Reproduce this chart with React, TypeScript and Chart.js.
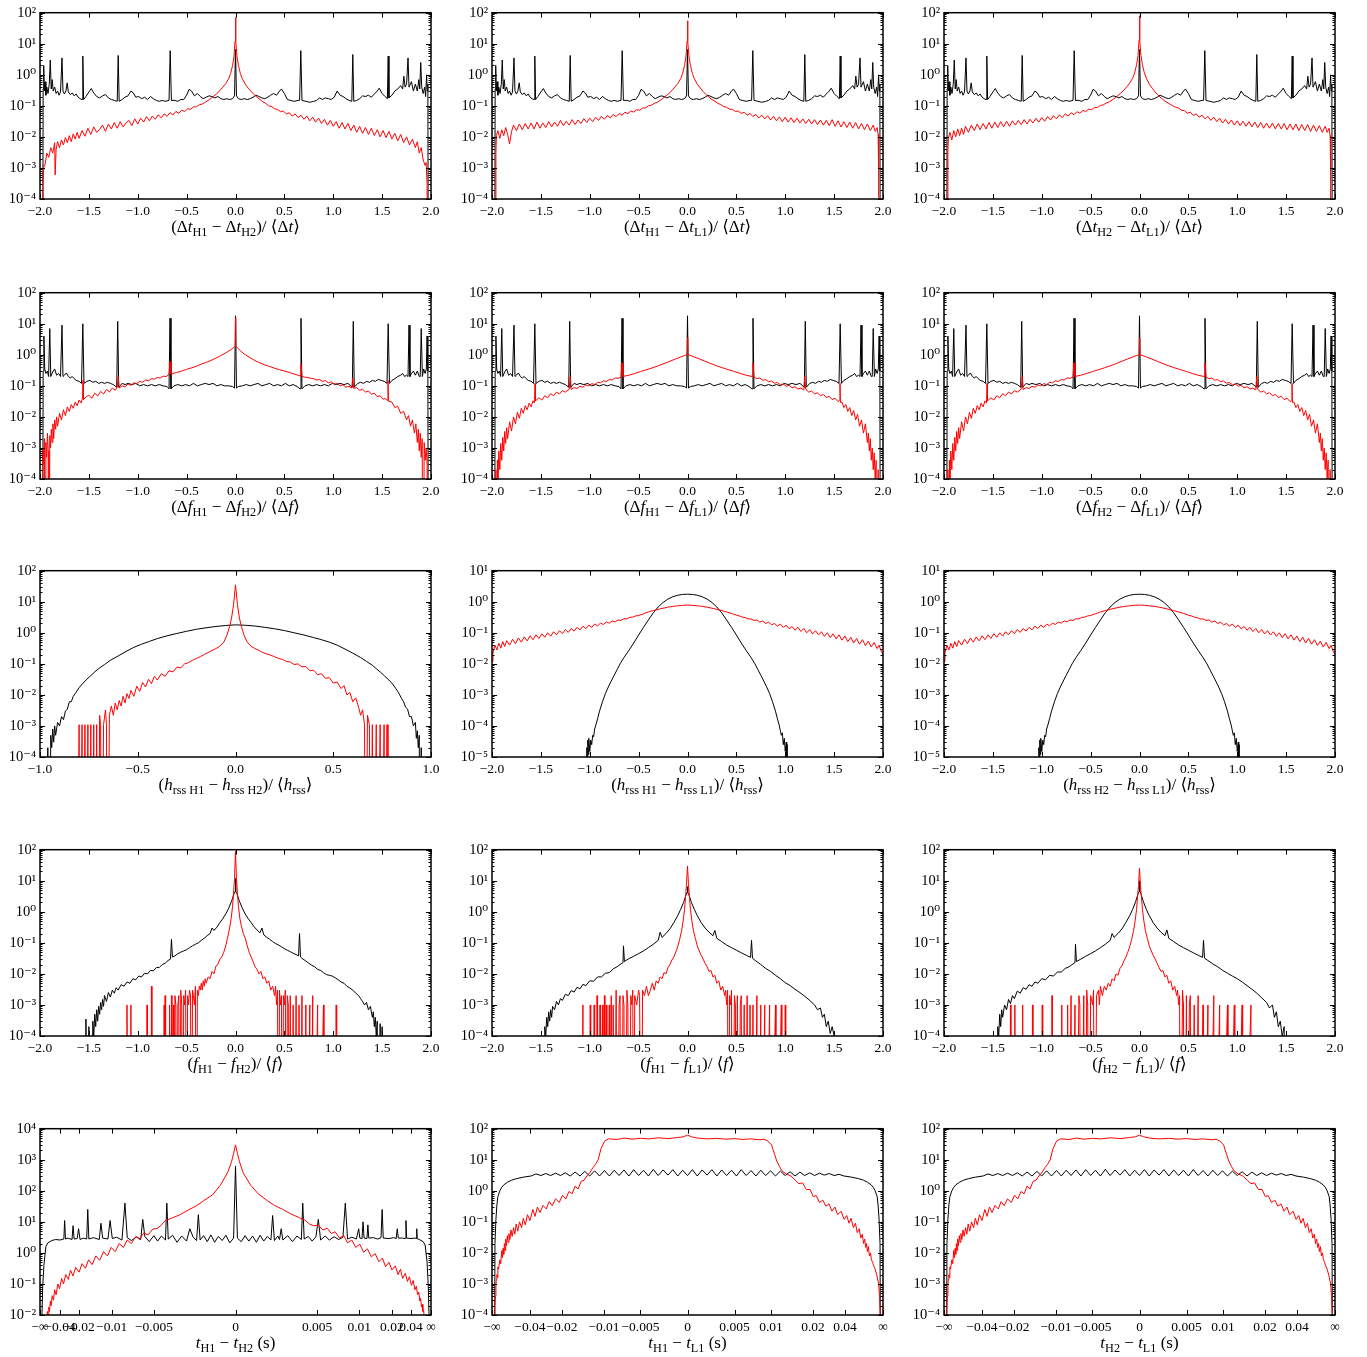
import React, { useEffect, useRef } from "react";
import { Chart, registerables } from "chart.js";

Chart.register(...registerables);
Chart.defaults.font.family = '"Liberation Serif", "DejaVu Serif", serif';
Chart.defaults.color = "#000";

type Pts = [number, number][];

// ---------------- tick values ----------------
const xTicksWide = [-2, -1.5, -1, -0.5, 0, 0.5, 1, 1.5, 2];
const xTicksNarrow = [-1, -0.5, 0, 0.5, 1];
const xTicksTime = [-Infinity, -0.04, -0.02, -0.01, -0.005, 0, 0.005, 0.01, 0.02, 0.04, Infinity];
const xTicksTimeLabels = ["−∞", "−0.04", "−0.02", "−0.01", "−0.005", "0", "0.005", "0.01", "0.02", "0.04", "∞"];
// arctan-warped time axis constants (s)
const TIME_WARP_H1H2 = 0.0065;
const TIME_WARP_HL = 0.0126;
const EMPTY_BIN = 1e-12; // empty histogram bins drop to the floor (clipped)

// ---------------- row 1 : Δt ----------------
const blackDt: Pts = [[-1.975,0],[-1.968,0.35],[-1.962,2.0],[-1.956,0.3],[-1.948,0.6],[-1.94,0.22],[-1.93,0.4],[-1.918,0.25],[-1.905,0.5],[-1.895,3.0],[-1.885,0.35],[-1.875,0.7],[-1.865,0.3],[-1.85,0.4],[-1.835,0.25],[-1.82,0.3],[-1.805,0.22],[-1.79,0.28],[-1.775,3.5],[-1.765,0.3],[-1.75,0.24],[-1.735,0.3],[-1.722,0.55],[-1.71,0.28],[-1.69,0.23],[-1.67,0.26],[-1.65,0.21],[-1.63,0.24],[-1.61,0.19],[-1.59,0.17],[-1.57,0.16],[-1.562,4.0],[-1.554,0.16],[-1.53,0.2],[-1.5,0.28],[-1.475,0.36],[-1.45,0.26],[-1.42,0.2],[-1.39,0.18],[-1.36,0.21],[-1.33,0.23],[-1.3,0.18],[-1.27,0.16],[-1.24,0.15],[-1.21,0.14],[-1.2,4.2],[-1.19,0.14],[-1.16,0.16],[-1.13,0.19],[-1.1,0.21],[-1.07,0.3],[-1.045,0.26],[-1.02,0.19],[-0.99,0.2],[-0.96,0.17],[-0.93,0.19],[-0.9,0.16],[-0.87,0.2],[-0.84,0.17],[-0.81,0.15],[-0.78,0.14],[-0.75,0.15],[-0.72,0.14],[-0.68,0.15],[-0.668,6.0],[-0.656,0.15],[-0.62,0.15],[-0.59,0.14],[-0.56,0.16],[-0.53,0.16],[-0.5,0.22],[-0.475,0.34],[-0.45,0.3],[-0.42,0.21],[-0.39,0.25],[-0.36,0.2],[-0.33,0.17],[-0.3,0.19],[-0.27,0.21],[-0.24,0.2],[-0.21,0.18],[-0.18,0.2],[-0.15,0.17],[-0.12,0.16],[-0.09,0.17],[-0.06,0.16],[-0.03,0.17],[-0.01,0.21],[0,6.5],[0.01,0.21],[0.03,0.17],[0.06,0.16],[0.09,0.17],[0.12,0.16],[0.15,0.17],[0.18,0.19],[0.21,0.22],[0.24,0.2],[0.27,0.18],[0.3,0.17],[0.33,0.19],[0.36,0.22],[0.39,0.25],[0.42,0.22],[0.45,0.3],[0.47,0.35],[0.5,0.25],[0.53,0.16],[0.56,0.15],[0.6,0.14],[0.64,0.15],[0.656,0.15],[0.668,6.0],[0.68,0.15],[0.72,0.14],[0.76,0.13],[0.8,0.14],[0.83,0.15],[0.86,0.18],[0.89,0.16],[0.92,0.18],[0.95,0.17],[0.98,0.16],[1.01,0.19],[1.04,0.3],[1.07,0.22],[1.1,0.2],[1.13,0.17],[1.16,0.15],[1.19,0.14],[1.2,4.5],[1.21,0.14],[1.24,0.15],[1.27,0.17],[1.3,0.21],[1.33,0.2],[1.36,0.22],[1.39,0.19],[1.42,0.24],[1.45,0.3],[1.47,0.37],[1.5,0.25],[1.53,0.2],[1.554,0.17],[1.562,4.0],[1.57,0.18],[1.6,0.22],[1.63,0.3],[1.66,0.35],[1.69,0.45],[1.71,0.35],[1.722,0.9],[1.735,0.4],[1.75,0.5],[1.765,3.5],[1.775,0.4],[1.8,0.6],[1.82,0.3],[1.84,0.5],[1.86,0.3],[1.875,0.7],[1.885,0.35],[1.895,2.5],[1.905,0.4],[1.92,0.25],[1.935,0.4],[1.945,0.2],[1.955,1.0],[1.962,0.3],[1.968,0.5],[1.975,0]];

const redDtH1H2: Pts = [[-1.975,0],[-1.97,3e-4],[-1.96,1.2e-3],[-1.95,0.0012],[-1.93,0.003],[-1.91,0.0022],[-1.89,0.0045],[-1.87,0.003],[-1.85,0.0065],[-1.845,0.0006],[-1.835,0.004],[-1.82,0.007],[-1.8,0.0045],[-1.78,0.008],[-1.76,0.0055],[-1.74,0.0095],[-1.72,0.0065],[-1.7,0.011],[-1.68,0.007],[-1.66,0.0125],[-1.64,0.0085],[-1.62,0.014],[-1.6,0.009],[-1.57,0.016],[-1.54,0.0105],[-1.51,0.019],[-1.48,0.012],[-1.45,0.021],[-1.42,0.014],[-1.39,0.0175],[-1.36,0.024],[-1.33,0.015],[-1.3,0.026],[-1.27,0.018],[-1.24,0.029],[-1.21,0.019],[-1.18,0.031],[-1.15,0.021],[-1.12,0.028],[-1.09,0.034],[-1.06,0.023],[-1.03,0.038],[-1.0,0.026],[-0.97,0.04],[-0.94,0.03],[-0.91,0.045],[-0.88,0.033],[-0.85,0.047],[-0.82,0.037],[-0.79,0.052],[-0.76,0.041],[-0.73,0.055],[-0.7,0.046],[-0.67,0.061],[-0.64,0.051],[-0.61,0.066],[-0.58,0.058],[-0.55,0.072],[-0.52,0.066],[-0.49,0.08],[-0.46,0.078],[-0.43,0.092],[-0.4,0.093],[-0.37,0.108],[-0.34,0.115],[-0.31,0.13],[-0.28,0.15],[-0.25,0.175],[-0.22,0.21],[-0.19,0.25],[-0.16,0.31],[-0.13,0.4],[-0.1,0.52],[-0.07,0.75],[-0.05,1.1],[-0.03,2.0],[-0.015,4.0],[-0.005,12],[0,70],[0.005,12],[0.015,4],[0.03,2],[0.05,1.1],[0.07,0.75],[0.1,0.5],[0.13,0.37],[0.16,0.29],[0.19,0.23],[0.22,0.19],[0.25,0.16],[0.28,0.135],[0.31,0.12],[0.34,0.1],[0.37,0.095],[0.4,0.08],[0.43,0.077],[0.46,0.065],[0.49,0.068],[0.52,0.055],[0.55,0.06],[0.58,0.047],[0.61,0.055],[0.64,0.042],[0.67,0.05],[0.7,0.037],[0.73,0.047],[0.76,0.033],[0.79,0.043],[0.82,0.03],[0.85,0.04],[0.88,0.027],[0.91,0.037],[0.94,0.024],[0.97,0.034],[1.0,0.022],[1.03,0.031],[1.06,0.019],[1.09,0.029],[1.12,0.018],[1.15,0.027],[1.18,0.016],[1.21,0.024],[1.24,0.014],[1.27,0.022],[1.3,0.013],[1.33,0.02],[1.36,0.012],[1.39,0.019],[1.42,0.011],[1.45,0.017],[1.48,0.01],[1.51,0.016],[1.54,0.0095],[1.57,0.015],[1.6,0.0085],[1.63,0.013],[1.66,0.0075],[1.69,0.012],[1.72,0.0065],[1.75,0.01],[1.78,0.0055],[1.81,0.0085],[1.84,0.0045],[1.86,0.007],[1.88,0.003],[1.9,0.0045],[1.92,0.0018],[1.94,0.0012],[1.95,0.0015],[1.96,3e-4],[1.97,0]];

const redDtH1L1: Pts = [[-1.965,0],[-1.96,0.003],[-1.955,0.011],[-1.94,0.016],[-1.92,0.009],[-1.9,0.017],[-1.88,0.011],[-1.86,0.02],[-1.84,0.012],[-1.82,0.006],[-1.8,0.015],[-1.78,0.024],[-1.75,0.016],[-1.72,0.026],[-1.69,0.017],[-1.66,0.027],[-1.63,0.018],[-1.6,0.028],[-1.57,0.018],[-1.54,0.03],[-1.51,0.019],[-1.48,0.028],[-1.45,0.02],[-1.42,0.031],[-1.39,0.021],[-1.36,0.03],[-1.33,0.022],[-1.3,0.034],[-1.27,0.023],[-1.24,0.032],[-1.21,0.024],[-1.18,0.036],[-1.15,0.025],[-1.12,0.035],[-1.09,0.027],[-1.06,0.039],[-1.03,0.029],[-1.0,0.04],[-0.97,0.031],[-0.94,0.043],[-0.91,0.034],[-0.88,0.046],[-0.85,0.037],[-0.82,0.049],[-0.79,0.041],[-0.76,0.053],[-0.73,0.045],[-0.7,0.057],[-0.67,0.05],[-0.64,0.062],[-0.61,0.056],[-0.58,0.068],[-0.55,0.063],[-0.52,0.075],[-0.49,0.072],[-0.46,0.085],[-0.43,0.086],[-0.4,0.1],[-0.37,0.105],[-0.34,0.12],[-0.31,0.13],[-0.28,0.15],[-0.25,0.175],[-0.22,0.21],[-0.19,0.25],[-0.16,0.31],[-0.13,0.4],[-0.1,0.52],[-0.07,0.75],[-0.05,1.1],[-0.03,2.0],[-0.015,4],[-0.005,12],[0,55],[0.005,12],[0.015,4],[0.03,2],[0.05,1.1],[0.07,0.75],[0.1,0.5],[0.13,0.38],[0.16,0.29],[0.19,0.23],[0.22,0.19],[0.25,0.16],[0.28,0.14],[0.31,0.12],[0.34,0.11],[0.37,0.095],[0.4,0.09],[0.43,0.078],[0.46,0.077],[0.49,0.066],[0.52,0.068],[0.55,0.057],[0.58,0.062],[0.61,0.05],[0.64,0.057],[0.67,0.045],[0.7,0.053],[0.73,0.041],[0.76,0.05],[0.79,0.038],[0.82,0.048],[0.85,0.035],[0.88,0.046],[0.91,0.033],[0.94,0.044],[0.97,0.031],[1.0,0.043],[1.03,0.03],[1.06,0.041],[1.09,0.029],[1.12,0.04],[1.15,0.028],[1.18,0.038],[1.21,0.027],[1.24,0.037],[1.27,0.026],[1.3,0.036],[1.33,0.025],[1.36,0.035],[1.39,0.024],[1.42,0.034],[1.45,0.023],[1.48,0.036],[1.51,0.022],[1.54,0.033],[1.57,0.021],[1.6,0.031],[1.63,0.02],[1.66,0.03],[1.69,0.019],[1.72,0.029],[1.75,0.018],[1.78,0.027],[1.81,0.017],[1.84,0.026],[1.87,0.016],[1.9,0.024],[1.92,0.015],[1.94,0.02],[1.95,0.012],[1.955,1e-3],[1.96,0]];

const redDtH2L1: Pts = [[-1.965,0],[-1.96,0.004],[-1.955,0.009],[-1.94,0.014],[-1.92,0.008],[-1.9,0.016],[-1.88,0.01],[-1.86,0.018],[-1.84,0.011],[-1.82,0.019],[-1.8,0.012],[-1.78,0.022],[-1.75,0.014],[-1.72,0.024],[-1.69,0.016],[-1.66,0.026],[-1.63,0.017],[-1.6,0.027],[-1.57,0.018],[-1.54,0.029],[-1.51,0.019],[-1.48,0.03],[-1.45,0.02],[-1.42,0.031],[-1.39,0.021],[-1.36,0.032],[-1.33,0.022],[-1.3,0.033],[-1.27,0.024],[-1.24,0.034],[-1.21,0.025],[-1.18,0.036],[-1.15,0.026],[-1.12,0.037],[-1.09,0.028],[-1.06,0.04],[-1.03,0.03],[-1.0,0.042],[-0.97,0.032],[-0.94,0.045],[-0.91,0.035],[-0.88,0.048],[-0.85,0.038],[-0.82,0.051],[-0.79,0.042],[-0.76,0.055],[-0.73,0.047],[-0.7,0.06],[-0.67,0.052],[-0.64,0.065],[-0.61,0.058],[-0.58,0.071],[-0.55,0.066],[-0.52,0.078],[-0.49,0.075],[-0.46,0.088],[-0.43,0.089],[-0.4,0.103],[-0.37,0.108],[-0.34,0.123],[-0.31,0.134],[-0.28,0.155],[-0.25,0.18],[-0.22,0.215],[-0.19,0.26],[-0.16,0.32],[-0.13,0.41],[-0.1,0.54],[-0.07,0.78],[-0.05,1.15],[-0.03,2.1],[-0.015,4.2],[-0.005,13],[0,80],[0.005,13],[0.015,4.2],[0.03,2.1],[0.05,1.15],[0.07,0.78],[0.1,0.5],[0.13,0.37],[0.16,0.28],[0.19,0.22],[0.22,0.18],[0.25,0.15],[0.28,0.13],[0.31,0.115],[0.34,0.1],[0.37,0.09],[0.4,0.085],[0.43,0.072],[0.46,0.07],[0.49,0.058],[0.52,0.062],[0.55,0.049],[0.58,0.055],[0.61,0.043],[0.64,0.05],[0.67,0.038],[0.7,0.046],[0.73,0.034],[0.76,0.043],[0.79,0.031],[0.82,0.04],[0.85,0.028],[0.88,0.037],[0.91,0.026],[0.94,0.035],[0.97,0.024],[1.0,0.033],[1.03,0.023],[1.06,0.032],[1.09,0.022],[1.12,0.031],[1.15,0.021],[1.18,0.03],[1.21,0.02],[1.24,0.029],[1.27,0.019],[1.3,0.028],[1.33,0.019],[1.36,0.028],[1.39,0.018],[1.42,0.027],[1.45,0.018],[1.48,0.027],[1.51,0.017],[1.54,0.026],[1.57,0.017],[1.6,0.026],[1.63,0.016],[1.66,0.025],[1.69,0.016],[1.72,0.025],[1.75,0.015],[1.78,0.024],[1.81,0.015],[1.84,0.023],[1.87,0.014],[1.9,0.022],[1.92,0.014],[1.94,0.019],[1.95,0.011],[1.955,1e-3],[1.96,0]];

// ---------------- row 2 : Δf ----------------
const blackDf: Pts = [[-1.975,0],[-1.968,0.3],[-1.96,4.0],[-1.952,0.35],[-1.94,0.25],[-1.925,0.3],[-1.912,0.2],[-1.9,7.0],[-1.89,0.2],[-1.87,0.28],[-1.85,0.35],[-1.83,0.22],[-1.81,0.25],[-1.79,0.2],[-1.775,9.0],[-1.765,0.2],[-1.75,0.22],[-1.73,0.26],[-1.71,0.2],[-1.69,0.18],[-1.67,0.2],[-1.65,0.17],[-1.63,0.15],[-1.6,0.14],[-1.575,0.12],[-1.562,10],[-1.55,0.12],[-1.52,0.14],[-1.49,0.15],[-1.46,0.13],[-1.43,0.14],[-1.4,0.12],[-1.37,0.13],[-1.34,0.12],[-1.31,0.13],[-1.28,0.12],[-1.25,0.11],[-1.215,0.09],[-1.205,12],[-1.195,0.09],[-1.16,0.12],[-1.13,0.11],[-1.1,0.12],[-1.06,0.11],[-1.02,0.12],[-0.98,0.1],[-0.94,0.11],[-0.9,0.1],[-0.86,0.11],[-0.82,0.1],[-0.78,0.11],[-0.74,0.1],[-0.7,0.095],[-0.68,0.08],[-0.67,15],[-0.66,0.08],[-0.63,0.1],[-0.59,0.11],[-0.55,0.1],[-0.51,0.11],[-0.47,0.1],[-0.43,0.12],[-0.39,0.1],[-0.35,0.11],[-0.31,0.12],[-0.27,0.11],[-0.23,0.12],[-0.19,0.1],[-0.15,0.11],[-0.11,0.1],[-0.07,0.1],[-0.03,0.095],[-0.01,0.085],[0,18],[0.01,0.085],[0.03,0.095],[0.07,0.1],[0.11,0.11],[0.15,0.1],[0.19,0.11],[0.23,0.12],[0.27,0.1],[0.31,0.11],[0.35,0.12],[0.39,0.1],[0.43,0.11],[0.47,0.1],[0.51,0.12],[0.55,0.1],[0.59,0.11],[0.63,0.095],[0.66,0.08],[0.67,15],[0.68,0.08],[0.71,0.1],[0.75,0.11],[0.79,0.1],[0.83,0.11],[0.87,0.1],[0.91,0.11],[0.95,0.1],[0.99,0.12],[1.03,0.11],[1.07,0.12],[1.11,0.11],[1.15,0.12],[1.195,0.09],[1.205,12],[1.215,0.09],[1.25,0.12],[1.28,0.13],[1.31,0.12],[1.34,0.14],[1.37,0.13],[1.4,0.15],[1.43,0.14],[1.46,0.16],[1.49,0.15],[1.52,0.14],[1.55,0.12],[1.562,10],[1.575,0.12],[1.6,0.15],[1.63,0.17],[1.66,0.2],[1.69,0.22],[1.71,0.25],[1.73,0.2],[1.75,0.22],[1.765,0.2],[1.775,9.0],[1.785,0.2],[1.8,0.25],[1.82,0.3],[1.84,0.22],[1.86,0.3],[1.88,0.2],[1.89,0.2],[1.9,7.0],[1.912,0.2],[1.925,0.35],[1.94,0.25],[1.952,0.35],[1.96,4.0],[1.968,0.3],[1.975,0]];

const redDfH1H2: Pts = [[-1.98,0],[-1.97,1e-3],[-1.962,3e-4],[-1.955,2e-3],[-1.948,0],[-1.94,1.5e-3],[-1.932,5e-4],[-1.924,3e-3],[-1.916,8e-4],[-1.908,0],[-1.9,2.5e-3],[-1.892,1e-3],[-1.884,4e-3],[-1.876,1.5e-3],[-1.868,6e-3],[-1.86,2e-3],[-1.85,8e-3],[-1.84,4e-3],[-1.83,1e-2],[-1.82,5e-3],[-1.8,1.3e-2],[-1.78,8e-3],[-1.76,1.7e-2],[-1.74,1.1e-2],[-1.72,2.1e-2],[-1.7,1.5e-2],[-1.68,2.5e-2],[-1.66,1.9e-2],[-1.64,3e-2],[-1.62,2.3e-2],[-1.6,3.5e-2],[-1.58,2.8e-2],[-1.565,4e-2],[-1.56,0.15],[-1.555,3.6e-2],[-1.53,4.4e-2],[-1.5,0.05],[-1.47,0.04],[-1.44,0.058],[-1.41,0.047],[-1.38,0.066],[-1.35,0.055],[-1.32,0.076],[-1.29,0.064],[-1.26,0.085],[-1.23,0.072],[-1.21,0.09],[-1.2,0.2],[-1.19,0.085],[-1.16,0.1],[-1.13,0.092],[-1.1,0.115],[-1.07,0.104],[-1.04,0.125],[-1.01,0.118],[-0.98,0.14],[-0.95,0.13],[-0.92,0.155],[-0.89,0.145],[-0.86,0.17],[-0.83,0.165],[-0.8,0.185],[-0.77,0.18],[-0.74,0.205],[-0.71,0.2],[-0.68,0.23],[-0.67,0.6],[-0.66,0.24],[-0.6,0.27],[-0.55,0.3],[-0.5,0.34],[-0.45,0.38],[-0.4,0.43],[-0.35,0.5],[-0.3,0.57],[-0.25,0.66],[-0.2,0.78],[-0.15,0.95],[-0.1,1.15],[-0.05,1.45],[-0.02,1.7],[-0.005,1.9],[0,16],[0.005,1.9],[0.02,1.65],[0.05,1.35],[0.1,1.0],[0.15,0.8],[0.2,0.65],[0.25,0.55],[0.3,0.47],[0.35,0.42],[0.4,0.37],[0.45,0.33],[0.5,0.3],[0.55,0.27],[0.6,0.24],[0.66,0.21],[0.67,0.5],[0.68,0.2],[0.71,0.19],[0.74,0.185],[0.77,0.175],[0.8,0.17],[0.83,0.155],[0.86,0.16],[0.89,0.14],[0.92,0.148],[0.95,0.125],[0.98,0.135],[1.01,0.112],[1.04,0.12],[1.07,0.1],[1.1,0.108],[1.13,0.09],[1.16,0.097],[1.19,0.085],[1.2,0.18],[1.21,0.083],[1.24,0.087],[1.27,0.072],[1.3,0.078],[1.33,0.063],[1.36,0.068],[1.39,0.054],[1.42,0.058],[1.45,0.045],[1.48,0.048],[1.51,0.037],[1.53,0.039],[1.555,0.034],[1.56,0.15],[1.565,0.032],[1.6,0.03],[1.63,0.02],[1.66,0.022],[1.69,0.013],[1.72,0.015],[1.75,0.008],[1.77,0.011],[1.79,0.005],[1.81,0.008],[1.83,0.003],[1.845,0.006],[1.86,0.0015],[1.87,0.004],[1.88,0.0008],[1.89,0.003],[1.9,0.0005],[1.91,0.002],[1.92,0],[1.93,0.0015],[1.94,0.0004],[1.95,0.001],[1.96,0.0003],[1.97,0]];

const redDfHL: Pts = [[-1.97,0],[-1.96,2e-4],[-1.955,0],[-1.945,4e-4],[-1.94,1e-4],[-1.93,8e-4],[-1.92,2e-4],[-1.91,1.4e-3],[-1.9,4e-4],[-1.89,2.2e-3],[-1.88,8e-4],[-1.87,3.4e-3],[-1.86,1.4e-3],[-1.85,4.5e-3],[-1.84,2e-3],[-1.82,7e-3],[-1.8,3.5e-3],[-1.78,1e-2],[-1.76,6e-3],[-1.74,1.4e-2],[-1.72,9e-3],[-1.7,1.9e-2],[-1.68,1.3e-2],[-1.66,2.3e-2],[-1.64,1.7e-2],[-1.62,2.8e-2],[-1.6,2.1e-2],[-1.58,3.3e-2],[-1.565,2.8e-2],[-1.56,0.12],[-1.555,3.3e-2],[-1.52,4.1e-2],[-1.49,3.5e-2],[-1.46,4.8e-2],[-1.43,4.1e-2],[-1.4,5.6e-2],[-1.37,4.8e-2],[-1.34,6.3e-2],[-1.31,5.5e-2],[-1.28,7e-2],[-1.25,6.3e-2],[-1.21,7.8e-2],[-1.2,0.2],[-1.19,7.6e-2],[-1.16,8.8e-2],[-1.13,8.2e-2],[-1.1,9.7e-2],[-1.07,9e-2],[-1.04,0.107],[-1.01,0.1],[-0.98,0.118],[-0.95,0.11],[-0.92,0.13],[-0.89,0.125],[-0.86,0.145],[-0.83,0.138],[-0.8,0.16],[-0.77,0.155],[-0.74,0.18],[-0.71,0.175],[-0.68,0.19],[-0.67,0.55],[-0.66,0.2],[-0.6,0.22],[-0.54,0.25],[-0.48,0.29],[-0.42,0.33],[-0.36,0.38],[-0.3,0.44],[-0.24,0.52],[-0.18,0.62],[-0.12,0.74],[-0.07,0.85],[-0.03,0.95],[-0.005,1.0],[0,3.5],[0.005,1.0],[0.03,0.95],[0.07,0.85],[0.12,0.74],[0.18,0.62],[0.24,0.52],[0.3,0.44],[0.36,0.38],[0.42,0.33],[0.48,0.29],[0.54,0.25],[0.6,0.22],[0.66,0.2],[0.67,0.55],[0.68,0.19],[0.71,0.17],[0.74,0.178],[0.77,0.152],[0.8,0.158],[0.83,0.136],[0.86,0.143],[0.89,0.122],[0.92,0.128],[0.95,0.108],[0.98,0.115],[1.01,0.097],[1.04,0.104],[1.07,0.087],[1.1,0.094],[1.13,0.079],[1.16,0.085],[1.19,0.074],[1.2,0.2],[1.21,0.077],[1.24,0.063],[1.27,0.068],[1.3,0.055],[1.33,0.06],[1.36,0.048],[1.39,0.053],[1.42,0.042],[1.45,0.046],[1.48,0.036],[1.51,0.04],[1.54,0.031],[1.555,0.034],[1.56,0.12],[1.565,0.029],[1.58,0.03],[1.6,0.02],[1.62,0.025],[1.64,0.015],[1.66,0.02],[1.68,0.011],[1.7,0.016],[1.72,0.008],[1.74,0.012],[1.76,0.005],[1.78,0.008],[1.8,0.003],[1.82,0.006],[1.84,0.0015],[1.85,0.003],[1.86,0.0008],[1.87,0.002],[1.88,0.0004],[1.89,0.001],[1.9,0.0002],[1.91,0.0007],[1.92,0.0001],[1.93,0.0004],[1.94,0],[1.95,0.0002],[1.96,0]];

// ---------------- row 3 : h_rss ----------------
const blackHrssH1H2: Pts = [[-0.97,0],[-0.96,2e-4],[-0.955,0],[-0.945,5e-4],[-0.94,2e-4],[-0.935,8e-4],[-0.93,3e-4],[-0.925,1e-3],[-0.92,5e-4],[-0.91,1.3e-3],[-0.9,1e-3],[-0.89,2e-3],[-0.88,1.6e-3],[-0.87,3e-3],[-0.86,3.5e-3],[-0.85,6e-3],[-0.84,6e-3],[-0.83,9e-3],[-0.82,1.1e-2],[-0.8,1.7e-2],[-0.78,2.4e-2],[-0.76,3.2e-2],[-0.74,4.2e-2],[-0.72,5.5e-2],[-0.7,7e-2],[-0.67,9.5e-2],[-0.64,0.13],[-0.6,0.18],[-0.56,0.25],[-0.52,0.34],[-0.48,0.43],[-0.44,0.53],[-0.4,0.65],[-0.35,0.8],[-0.3,0.95],[-0.25,1.12],[-0.2,1.3],[-0.15,1.45],[-0.1,1.6],[-0.05,1.72],[0,1.8],[0.05,1.75],[0.1,1.65],[0.15,1.5],[0.2,1.35],[0.25,1.18],[0.3,1.0],[0.35,0.85],[0.4,0.7],[0.44,0.6],[0.48,0.5],[0.52,0.4],[0.56,0.3],[0.6,0.22],[0.64,0.16],[0.67,0.12],[0.7,0.09],[0.72,0.07],[0.74,0.055],[0.76,0.042],[0.78,0.032],[0.8,0.024],[0.82,0.016],[0.83,0.013],[0.84,0.01],[0.85,7.5e-3],[0.86,6e-3],[0.87,4e-3],[0.88,3.5e-3],[0.89,2e-3],[0.9,2e-3],[0.91,1e-3],[0.92,1.3e-3],[0.925,4e-4],[0.93,7e-4],[0.935,2e-4],[0.94,5e-4],[0.945,0],[0.95,2e-4],[0.955,0]];

const redHrssH1H2: Pts = [[-0.81,0],[-0.8,1.1e-3],[-0.795,0],[-0.785,1.1e-3],[-0.78,0],[-0.77,1.1e-3],[-0.765,0],[-0.755,1.1e-3],[-0.75,0],[-0.74,1.1e-3],[-0.735,0],[-0.725,1.1e-3],[-0.72,0],[-0.71,1.1e-3],[-0.703,0],[-0.695,2.2e-3],[-0.69,1.1e-3],[-0.685,0],[-0.675,1.1e-3],[-0.665,3.3e-3],[-0.66,1.1e-3],[-0.655,0],[-0.645,2.2e-3],[-0.635,4.4e-3],[-0.625,2.2e-3],[-0.615,5.5e-3],[-0.605,3.3e-3],[-0.595,6.6e-3],[-0.585,4.4e-3],[-0.575,9e-3],[-0.565,5.5e-3],[-0.555,1.1e-2],[-0.545,7.7e-3],[-0.535,1.4e-2],[-0.52,9e-3],[-0.505,1.9e-2],[-0.49,1.3e-2],[-0.475,2.5e-2],[-0.46,1.8e-2],[-0.445,3.2e-2],[-0.43,2.3e-2],[-0.415,4e-2],[-0.4,3e-2],[-0.38,4.8e-2],[-0.36,4e-2],[-0.34,6e-2],[-0.32,5.5e-2],[-0.3,7.8e-2],[-0.28,7.5e-2],[-0.26,0.1],[-0.24,0.11],[-0.22,0.13],[-0.2,0.15],[-0.18,0.17],[-0.16,0.2],[-0.14,0.23],[-0.12,0.27],[-0.1,0.31],[-0.08,0.37],[-0.06,0.5],[-0.045,0.8],[-0.03,1.6],[-0.02,3],[-0.01,8],[0,35],[0.01,8],[0.02,3],[0.03,1.6],[0.045,0.8],[0.06,0.5],[0.08,0.37],[0.1,0.31],[0.12,0.27],[0.14,0.23],[0.16,0.21],[0.18,0.19],[0.2,0.17],[0.22,0.15],[0.24,0.14],[0.26,0.12],[0.28,0.115],[0.3,0.095],[0.32,0.1],[0.34,0.08],[0.36,0.082],[0.38,0.06],[0.4,0.062],[0.42,0.045],[0.44,0.048],[0.46,0.034],[0.48,0.036],[0.5,0.024],[0.52,0.026],[0.54,0.016],[0.555,0.02],[0.57,0.01],[0.585,0.012],[0.6,0.006],[0.615,0.008],[0.63,0.004],[0.64,0.0022],[0.65,0.0033],[0.66,0.0011],[0.665,0],[0.675,0.0022],[0.685,0.0011],[0.69,0],[0.7,0.0011],[0.705,0],[0.72,0.0011],[0.725,0],[0.74,0.0011],[0.745,0],[0.76,0.0011],[0.765,0],[0.775,0.0011],[0.78,0]];

const blackHrssHL: Pts = [[-1.04,0],[-1.03,2e-5],[-1.025,8e-6],[-1.02,3.5e-5],[-1.015,1.2e-5],[-1.01,4e-5],[-1.0,1.5e-5],[-0.99,3.5e-5],[-0.98,2.5e-5],[-0.97,5e-5],[-0.96,4.5e-5],[-0.95,8e-5],[-0.94,1e-4],[-0.92,1.7e-4],[-0.9,3e-4],[-0.87,6e-4],[-0.84,1.1e-3],[-0.81,1.8e-3],[-0.78,2.8e-3],[-0.75,4.3e-3],[-0.72,6.5e-3],[-0.69,1e-2],[-0.65,1.6e-2],[-0.6,2.7e-2],[-0.55,4.7e-2],[-0.5,8.5e-2],[-0.45,0.15],[-0.4,0.26],[-0.35,0.44],[-0.3,0.68],[-0.25,0.95],[-0.2,1.22],[-0.15,1.45],[-0.1,1.62],[-0.05,1.72],[0,1.75],[0.05,1.72],[0.1,1.62],[0.15,1.45],[0.2,1.22],[0.25,0.95],[0.3,0.68],[0.35,0.44],[0.4,0.26],[0.45,0.15],[0.5,0.085],[0.55,0.047],[0.6,0.027],[0.65,0.016],[0.69,0.01],[0.72,6.5e-3],[0.75,4.3e-3],[0.78,2.8e-3],[0.81,1.8e-3],[0.84,1.1e-3],[0.87,6e-4],[0.9,3e-4],[0.92,1.7e-4],[0.94,1e-4],[0.95,7e-5],[0.96,5e-5],[0.97,6e-5],[0.98,2.5e-5],[0.99,4e-5],[1.0,1.5e-5],[1.01,3e-5],[1.015,1e-5],[1.02,2.5e-5],[1.03,0]];

const redHrssHL: Pts = [[-2.0,0.012],[-1.99,0.022],[-1.97,0.04],[-1.95,0.028],[-1.93,0.046],[-1.91,0.032],[-1.89,0.052],[-1.87,0.036],[-1.85,0.056],[-1.82,0.04],[-1.79,0.062],[-1.76,0.045],[-1.73,0.068],[-1.7,0.05],[-1.67,0.074],[-1.64,0.055],[-1.61,0.08],[-1.58,0.06],[-1.55,0.086],[-1.52,0.066],[-1.49,0.093],[-1.46,0.072],[-1.43,0.1],[-1.4,0.078],[-1.37,0.108],[-1.34,0.086],[-1.31,0.117],[-1.28,0.094],[-1.25,0.127],[-1.22,0.103],[-1.19,0.138],[-1.16,0.113],[-1.13,0.15],[-1.1,0.124],[-1.07,0.163],[-1.04,0.137],[-1.01,0.176],[-0.98,0.15],[-0.95,0.19],[-0.92,0.168],[-0.89,0.205],[-0.86,0.185],[-0.83,0.222],[-0.8,0.205],[-0.77,0.24],[-0.74,0.225],[-0.71,0.26],[-0.68,0.25],[-0.65,0.285],[-0.62,0.28],[-0.59,0.315],[-0.56,0.32],[-0.53,0.35],[-0.5,0.36],[-0.45,0.41],[-0.4,0.47],[-0.35,0.52],[-0.3,0.57],[-0.25,0.62],[-0.2,0.67],[-0.15,0.71],[-0.1,0.74],[-0.05,0.77],[0,0.78],[0.05,0.77],[0.1,0.74],[0.15,0.71],[0.2,0.67],[0.25,0.62],[0.3,0.57],[0.35,0.52],[0.4,0.47],[0.45,0.42],[0.5,0.37],[0.53,0.35],[0.56,0.32],[0.59,0.31],[0.62,0.28],[0.65,0.28],[0.68,0.25],[0.71,0.26],[0.74,0.22],[0.77,0.24],[0.8,0.2],[0.83,0.22],[0.86,0.18],[0.89,0.2],[0.92,0.165],[0.95,0.19],[0.98,0.15],[1.01,0.175],[1.04,0.135],[1.07,0.16],[1.1,0.122],[1.13,0.15],[1.16,0.11],[1.19,0.138],[1.22,0.1],[1.25,0.127],[1.28,0.092],[1.31,0.117],[1.34,0.085],[1.37,0.108],[1.4,0.077],[1.43,0.1],[1.46,0.07],[1.49,0.093],[1.52,0.064],[1.55,0.086],[1.58,0.058],[1.61,0.079],[1.64,0.052],[1.67,0.072],[1.7,0.047],[1.73,0.066],[1.76,0.043],[1.79,0.06],[1.82,0.039],[1.85,0.054],[1.88,0.035],[1.91,0.049],[1.94,0.031],[1.96,0.04],[1.98,0.026],[2.0,0.02]];

// ---------------- row 4 : f ----------------
const blackFH1H2: Pts = [[-1.54,0],[-1.53,3.5e-4],[-1.52,0],[-1.5,2e-4],[-1.48,0],[-1.46,3e-4],[-1.45,1e-4],[-1.44,5e-4],[-1.43,2e-4],[-1.42,7e-4],[-1.41,3e-4],[-1.4,9e-4],[-1.39,5e-4],[-1.38,1.2e-3],[-1.37,7e-4],[-1.36,1.5e-3],[-1.35,9e-4],[-1.34,2e-3],[-1.32,1.3e-3],[-1.3,2.5e-3],[-1.28,1.8e-3],[-1.26,3e-3],[-1.24,2.4e-3],[-1.22,3.6e-3],[-1.2,3e-3],[-1.17,4.5e-3],[-1.14,4e-3],[-1.11,5.5e-3],[-1.08,5e-3],[-1.05,7e-3],[-1.02,6.5e-3],[-0.99,8.5e-3],[-0.96,8e-3],[-0.93,1.05e-2],[-0.9,1e-2],[-0.87,1.3e-2],[-0.84,1.25e-2],[-0.81,1.6e-2],[-0.78,1.6e-2],[-0.75,2e-2],[-0.72,2.2e-2],[-0.69,2.7e-2],[-0.665,3e-2],[-0.655,0.13],[-0.645,3.5e-2],[-0.62,3.8e-2],[-0.59,4.5e-2],[-0.56,5e-2],[-0.53,5.5e-2],[-0.5,6e-2],[-0.47,7e-2],[-0.44,8e-2],[-0.41,9e-2],[-0.38,0.1],[-0.35,0.12],[-0.32,0.14],[-0.29,0.17],[-0.26,0.2],[-0.24,0.3],[-0.22,0.25],[-0.19,0.32],[-0.16,0.45],[-0.13,0.6],[-0.1,0.85],[-0.07,1.3],[-0.04,2.2],[-0.015,3.8],[-0.005,4.5],[0,12],[0.005,4.5],[0.015,3.8],[0.04,2.2],[0.07,1.3],[0.1,0.85],[0.13,0.6],[0.16,0.45],[0.19,0.33],[0.22,0.26],[0.25,0.21],[0.27,0.3],[0.29,0.18],[0.32,0.15],[0.35,0.13],[0.38,0.11],[0.41,0.095],[0.44,0.085],[0.47,0.075],[0.5,0.065],[0.53,0.058],[0.56,0.052],[0.59,0.046],[0.62,0.042],[0.645,0.038],[0.655,0.2],[0.665,0.035],[0.69,0.03],[0.72,0.026],[0.75,0.022],[0.78,0.019],[0.81,0.017],[0.84,0.014],[0.87,0.013],[0.9,0.011],[0.93,0.0095],[0.96,0.009],[0.99,0.0085],[1.02,0.0075],[1.05,0.0065],[1.08,0.0055],[1.11,0.005],[1.14,0.004],[1.17,0.0035],[1.2,0.003],[1.23,0.0024],[1.26,0.002],[1.28,0.0016],[1.3,0.0013],[1.32,0.001],[1.34,0.0012],[1.36,0.0007],[1.38,0.0009],[1.4,0.0004],[1.41,0.0006],[1.42,0.0002],[1.43,0.0004],[1.44,0.0001],[1.45,0.0003],[1.46,0],[1.48,0.00025],[1.49,0],[1.5,0.0002],[1.51,0]];

const redFH1H2: Pts = [[-1.12,0],[-1.11,1e-3],[-1.1,0],[-1.075,0],[-1.07,1e-3],[-1.065,0],[-0.91,0],[-0.905,1e-3],[-0.9,0],[-0.865,0],[-0.86,4e-3],[-0.855,0],[-0.735,0],[-0.73,1e-3],[-0.725,0],[-0.72,2e-3],[-0.715,0],[-0.68,0],[-0.675,1e-3],[-0.67,0],[-0.655,2e-3],[-0.65,0],[-0.635,1e-3],[-0.63,0],[-0.62,2e-3],[-0.61,1e-3],[-0.6,0],[-0.59,1e-3],[-0.58,2e-3],[-0.57,0],[-0.56,3e-3],[-0.55,1e-3],[-0.54,0],[-0.53,2e-3],[-0.52,1e-3],[-0.51,3e-3],[-0.5,0],[-0.49,2e-3],[-0.48,1e-3],[-0.47,3e-3],[-0.46,2e-3],[-0.45,0],[-0.44,3e-3],[-0.43,2e-3],[-0.42,1e-3],[-0.41,4e-3],[-0.4,0],[-0.39,3e-3],[-0.38,2e-3],[-0.37,4e-3],[-0.36,3e-3],[-0.35,5e-3],[-0.34,3e-3],[-0.33,6e-3],[-0.32,4e-3],[-0.31,7e-3],[-0.3,5e-3],[-0.28,8e-3],[-0.26,7e-3],[-0.24,1.2e-2],[-0.22,1e-2],[-0.2,1.8e-2],[-0.18,2e-2],[-0.16,3e-2],[-0.14,3.5e-2],[-0.12,5e-2],[-0.1,8e-2],[-0.08,0.15],[-0.06,0.3],[-0.045,0.6],[-0.03,1.5],[-0.02,4],[-0.01,12],[0,90],[0.01,12],[0.02,4],[0.03,1.5],[0.045,0.6],[0.06,0.35],[0.08,0.2],[0.1,0.14],[0.12,0.08],[0.14,0.05],[0.16,0.035],[0.18,0.025],[0.2,0.017],[0.22,0.014],[0.24,0.01],[0.26,0.012],[0.28,0.007],[0.3,0.008],[0.32,0.005],[0.34,0.006],[0.36,0.003],[0.38,0.004],[0.4,0.002],[0.41,0.004],[0.42,0.001],[0.43,0.003],[0.44,0],[0.45,0.003],[0.46,0.001],[0.47,0.002],[0.48,0],[0.49,0.002],[0.5,0.001],[0.51,0.003],[0.52,0],[0.53,0.002],[0.54,0.001],[0.55,0],[0.56,0.002],[0.57,0],[0.59,0.001],[0.6,0],[0.62,0.002],[0.63,0],[0.65,0.001],[0.66,0],[0.68,0.002],[0.69,0],[0.72,0.001],[0.73,0],[0.76,0.001],[0.765,0],[0.79,0.002],[0.795,0],[0.84,0.001],[0.845,0],[0.9,0.001],[0.905,0],[1.025,0],[1.03,0.001],[1.035,0]];

const blackFH1L1: Pts = [[-1.47,0],[-1.46,2e-4],[-1.45,1e-4],[-1.44,4e-4],[-1.43,2e-4],[-1.42,6e-4],[-1.41,3e-4],[-1.4,7e-4],[-1.39,4e-4],[-1.38,9e-4],[-1.36,7e-4],[-1.34,1.3e-3],[-1.32,1e-3],[-1.3,1.6e-3],[-1.28,1.4e-3],[-1.25,2.2e-3],[-1.22,2e-3],[-1.19,2.9e-3],[-1.16,2.6e-3],[-1.13,3.7e-3],[-1.1,3.3e-3],[-1.07,4.6e-3],[-1.04,4.2e-3],[-1.0,6e-3],[-0.96,5.8e-3],[-0.92,8e-3],[-0.88,8e-3],[-0.84,1.05e-2],[-0.8,1.1e-2],[-0.76,1.45e-2],[-0.72,1.7e-2],[-0.68,2.1e-2],[-0.66,2.3e-2],[-0.655,0.08],[-0.645,2.5e-2],[-0.6,3.1e-2],[-0.55,3.7e-2],[-0.5,4.5e-2],[-0.45,5.5e-2],[-0.4,7e-2],[-0.35,9e-2],[-0.3,0.12],[-0.28,0.22],[-0.26,0.15],[-0.22,0.2],[-0.18,0.28],[-0.14,0.45],[-0.1,0.75],[-0.07,1.2],[-0.04,2.0],[-0.015,3.5],[-0.005,4.2],[0,6.5],[0.005,4.2],[0.015,3.5],[0.04,2.0],[0.07,1.2],[0.1,0.75],[0.14,0.45],[0.18,0.3],[0.22,0.22],[0.26,0.17],[0.28,0.25],[0.3,0.14],[0.35,0.11],[0.4,0.085],[0.45,0.07],[0.5,0.058],[0.55,0.048],[0.6,0.04],[0.645,0.034],[0.655,0.12],[0.665,0.032],[0.7,0.026],[0.75,0.02],[0.8,0.015],[0.85,0.012],[0.9,0.009],[0.95,0.007],[1.0,0.0052],[1.05,0.0042],[1.1,0.0032],[1.15,0.0025],[1.2,0.0019],[1.25,0.0014],[1.3,0.001],[1.33,0.0007],[1.36,0.0008],[1.38,0.0004],[1.4,0.0005],[1.42,0.0002],[1.44,0.0003],[1.46,0.00012],[1.48,0.0002],[1.5,0.0001],[1.51,0]];

const redFH1L1: Pts = [[-1.08,0],[-1.07,1e-3],[-1.065,0],[-1.0,0],[-0.995,1e-3],[-0.99,0],[-0.96,0],[-0.955,1e-3],[-0.95,0],[-0.93,0],[-0.925,2e-3],[-0.92,0],[-0.9,0],[-0.895,1e-3],[-0.89,0],[-0.87,1e-3],[-0.865,0],[-0.85,2e-3],[-0.845,0],[-0.83,1e-3],[-0.825,0],[-0.8,1e-3],[-0.795,0],[-0.78,2e-3],[-0.77,0],[-0.76,1e-3],[-0.75,0],[-0.73,3e-3],[-0.72,0],[-0.7,1e-3],[-0.69,2e-3],[-0.68,0],[-0.66,2e-3],[-0.65,1e-3],[-0.64,0],[-0.62,3e-3],[-0.61,1e-3],[-0.6,0],[-0.58,2e-3],[-0.57,1e-3],[-0.56,3e-3],[-0.55,0],[-0.54,2e-3],[-0.52,1e-3],[-0.5,3e-3],[-0.49,2e-3],[-0.47,0],[-0.46,3e-3],[-0.44,2e-3],[-0.42,4e-3],[-0.4,2e-3],[-0.38,3e-3],[-0.36,5e-3],[-0.34,3e-3],[-0.32,6e-3],[-0.3,5e-3],[-0.28,8e-3],[-0.26,7e-3],[-0.24,1.1e-2],[-0.22,1e-2],[-0.2,1.6e-2],[-0.18,2e-2],[-0.16,2.8e-2],[-0.14,3.5e-2],[-0.12,5e-2],[-0.1,7.5e-2],[-0.08,0.13],[-0.06,0.25],[-0.045,0.5],[-0.03,1.2],[-0.02,3],[-0.01,8],[0,30],[0.01,8],[0.02,3],[0.03,1.2],[0.045,0.5],[0.06,0.25],[0.08,0.14],[0.1,0.08],[0.12,0.055],[0.14,0.04],[0.16,0.03],[0.18,0.022],[0.2,0.017],[0.22,0.012],[0.24,0.013],[0.26,0.008],[0.28,0.009],[0.3,0.005],[0.32,0.006],[0.34,0.003],[0.36,0.004],[0.38,0.002],[0.39,0.003],[0.4,0.001],[0.41,0.003],[0.42,0],[0.43,0.002],[0.44,0.001],[0.45,0.003],[0.46,0],[0.48,0.002],[0.49,0.001],[0.5,0],[0.51,0.002],[0.52,0],[0.54,0.001],[0.55,0.002],[0.56,0],[0.58,0.001],[0.59,0],[0.61,0.002],[0.62,0],[0.64,0.001],[0.65,0],[0.67,0.001],[0.68,0],[0.71,0.002],[0.72,0],[0.75,0.001],[0.755,0],[0.79,0.001],[0.795,0],[0.84,0.001],[0.845,0],[0.9,0.001],[0.905,0],[0.96,0.001],[0.965,0],[0.995,0],[1.0,0.001],[1.005,0]];

const blackFH2L1: Pts = [[-1.47,0],[-1.45,2e-4],[-1.44,1e-4],[-1.43,5e-4],[-1.42,2e-4],[-1.41,7e-4],[-1.4,4e-4],[-1.38,1e-3],[-1.36,7e-4],[-1.34,1.5e-3],[-1.32,1.1e-3],[-1.3,2e-3],[-1.28,1.6e-3],[-1.25,2.8e-3],[-1.22,2.4e-3],[-1.19,3.6e-3],[-1.16,3.2e-3],[-1.13,4.5e-3],[-1.1,4e-3],[-1.07,5.5e-3],[-1.04,5e-3],[-1.0,7e-3],[-0.96,6.5e-3],[-0.92,9e-3],[-0.88,8.5e-3],[-0.84,1.15e-2],[-0.8,1.15e-2],[-0.76,1.5e-2],[-0.72,1.7e-2],[-0.68,2.1e-2],[-0.66,2.3e-2],[-0.655,0.09],[-0.645,2.5e-2],[-0.6,3e-2],[-0.55,3.7e-2],[-0.5,4.5e-2],[-0.45,5.5e-2],[-0.4,7e-2],[-0.35,9e-2],[-0.3,0.12],[-0.28,0.2],[-0.26,0.15],[-0.22,0.2],[-0.18,0.28],[-0.14,0.45],[-0.1,0.75],[-0.07,1.2],[-0.04,2.1],[-0.015,3.8],[-0.005,4.5],[0,10],[0.005,4.5],[0.015,3.8],[0.04,2.1],[0.07,1.2],[0.1,0.75],[0.14,0.45],[0.18,0.3],[0.22,0.22],[0.26,0.17],[0.28,0.26],[0.3,0.14],[0.35,0.11],[0.4,0.085],[0.45,0.07],[0.5,0.058],[0.55,0.048],[0.6,0.04],[0.645,0.034],[0.655,0.12],[0.665,0.032],[0.7,0.027],[0.75,0.021],[0.8,0.017],[0.85,0.013],[0.9,0.0105],[0.95,0.0085],[1.0,0.007],[1.05,0.0055],[1.1,0.0042],[1.15,0.0032],[1.2,0.0024],[1.25,0.0017],[1.3,0.0012],[1.33,0.0008],[1.36,0.001],[1.38,0.0004],[1.4,0.0006],[1.42,0.0002],[1.44,0.0003],[1.46,0.0001],[1.48,0.0002],[1.5,0]];

const redFH2L1: Pts = [[-1.33,0],[-1.32,1e-3],[-1.315,0],[-1.28,0],[-1.275,1e-3],[-1.27,0],[-1.2,0],[-1.195,1e-3],[-1.19,0],[-1.1,0],[-1.095,1e-3],[-1.09,0],[-1.0,0],[-0.995,1e-3],[-0.99,0],[-0.9,0],[-0.895,2e-3],[-0.89,0],[-0.8,0],[-0.795,1e-3],[-0.79,0],[-0.74,0],[-0.735,1e-3],[-0.73,0],[-0.7,2e-3],[-0.69,0],[-0.66,1e-3],[-0.65,0],[-0.62,2e-3],[-0.61,1e-3],[-0.6,0],[-0.57,2e-3],[-0.56,0],[-0.54,3e-3],[-0.53,1e-3],[-0.52,0],[-0.5,2e-3],[-0.48,1e-3],[-0.47,3e-3],[-0.46,0],[-0.44,2e-3],[-0.42,3e-3],[-0.41,1e-3],[-0.4,4e-3],[-0.38,2e-3],[-0.36,4e-3],[-0.34,3e-3],[-0.32,5e-3],[-0.3,4e-3],[-0.28,7e-3],[-0.26,6e-3],[-0.24,1e-2],[-0.22,9e-3],[-0.2,1.5e-2],[-0.18,1.8e-2],[-0.16,2.6e-2],[-0.14,3.4e-2],[-0.12,5e-2],[-0.1,7.5e-2],[-0.08,0.13],[-0.06,0.25],[-0.045,0.5],[-0.03,1.2],[-0.02,3],[-0.01,7],[0,25],[0.01,7],[0.02,3],[0.03,1.2],[0.045,0.5],[0.06,0.25],[0.08,0.14],[0.1,0.08],[0.12,0.055],[0.14,0.04],[0.16,0.03],[0.18,0.022],[0.2,0.016],[0.22,0.012],[0.24,0.013],[0.26,0.008],[0.28,0.009],[0.3,0.005],[0.32,0.006],[0.34,0.003],[0.36,0.004],[0.38,0.002],[0.39,0.003],[0.4,0.001],[0.41,0.002],[0.42,0],[0.44,0.003],[0.45,0.001],[0.46,0],[0.48,0.002],[0.49,0],[0.51,0.001],[0.52,0.002],[0.53,0],[0.56,0.001],[0.57,0],[0.6,0.002],[0.61,0],[0.65,0.001],[0.655,0],[0.7,0.001],[0.705,0],[0.76,0.002],[0.765,0],[0.82,0.001],[0.825,0],[0.9,0.001],[0.905,0],[0.97,0.001],[0.975,0],[1.05,0.001],[1.055,0],[1.14,0.001],[1.145,0]];

// ---------------- row 5 : arrival time (s) ----------------
const blackTH1H2: Pts = [[-0.8,0],[-0.4138,0.01],[-0.3,0.08],[-0.2068,0.4],[-0.1378,1.6],[-0.1033,2.1],[-0.06876,2.5],[-0.05145,2.7],[-0.04,2.6],[-0.0335,2.8],[-0.0324,11],[-0.0313,2.8],[-0.0285,3.0],[-0.0247,2.7],[-0.0239,7.5],[-0.0231,2.8],[-0.0211,2.9],[-0.0203,6],[-0.0195,2.7],[-0.018,3.0],[-0.0165,2.8],[-0.0161,25],[-0.0157,2.8],[-0.0142,3.1],[-0.0126,2.7],[-0.0122,9],[-0.0118,3.0],[-0.0107,2.8],[-0.0103,11],[-0.0099,2.9],[-0.0092,3.2],[-0.0084,2.6],[-0.008,40],[-0.0077,3.1],[-0.0072,2.5],[-0.0066,3.3],[-0.0062,2.7],[-0.006,12],[-0.0058,3.4],[-0.0054,2.3],[-0.005,3.6],[-0.0047,2.4],[-0.0044,3.5],[-0.0041,2.6],[-0.004,40],[-0.0039,2.8],[-0.0036,3.7],[-0.0033,2.2],[-0.003,3.5],[-0.0027,2.4],[-0.0025,6],[-0.0023,3.2],[-0.0021,2.5],[-0.002,17],[-0.0019,2.6],[-0.0017,3.6],[-0.0015,2.3],[-0.0013,3.8],[-0.0011,2.2],[-0.0009,3.4],[-0.0007,2.5],[-0.0005,3.7],[-0.0003,2.1],[-0.0001,3.0],[0,630],[0.0001,3.0],[0.0003,2.3],[0.0005,3.6],[0.0007,2.4],[0.0009,3.5],[0.0011,2.2],[0.0013,3.7],[0.0015,2.4],[0.0017,3.4],[0.0019,2.6],[0.002,16],[0.0021,2.5],[0.0023,3.5],[0.0024,2.7],[0.0025,6],[0.0026,2.6],[0.0029,3.6],[0.0032,2.3],[0.0035,3.5],[0.0038,2.7],[0.0039,40],[0.004,2.8],[0.0043,3.4],[0.0046,2.4],[0.0049,3.3],[0.0051,12],[0.0053,2.6],[0.0057,3.5],[0.0061,2.6],[0.0066,3.3],[0.0071,2.7],[0.0076,3.2],[0.0079,40],[0.0082,2.8],[0.0088,3.2],[0.0095,2.8],[0.0099,6],[0.0101,3.0],[0.0105,2.9],[0.0107,10],[0.0109,3.0],[0.0115,2.9],[0.0117,8],[0.0119,3.0],[0.013,3.1],[0.0142,2.8],[0.0153,3.1],[0.0157,25],[0.0161,3.0],[0.0185,2.9],[0.021,3.1],[0.0226,2.9],[0.0234,6],[0.0242,3.0],[0.028,3.0],[0.0311,2.9],[0.0319,11],[0.0327,3.0],[0.04,2.9],[0.05,3.0],[0.055,2.9],[0.0565,6],[0.058,2.9],[0.06876,2.7],[0.1033,2.3],[0.1378,1.8],[0.2068,0.5],[0.3,0.08],[0.4138,0.01],[0.8,0]];

const redTH1H2: Pts = [[-0.125,0],[-0.118,0.006],[-0.11,0.013],[-0.1,0.009],[-0.092,0.018],[-0.085,0.013],[-0.078,0.028],[-0.072,0.02],[-0.066,0.042],[-0.06,0.03],[-0.055,0.065],[-0.05,0.045],[-0.045,0.1],[-0.041,0.07],[-0.037,0.15],[-0.034,0.1],[-0.031,0.2],[-0.028,0.14],[-0.026,0.28],[-0.024,0.18],[-0.022,0.34],[-0.02,0.24],[-0.0185,0.45],[-0.017,0.32],[-0.0158,0.6],[-0.0146,0.42],[-0.0135,0.8],[-0.0125,0.58],[-0.0116,1.1],[-0.0108,0.8],[-0.0101,1.5],[-0.0094,1.1],[-0.0088,2.0],[-0.0082,1.5],[-0.0077,2.6],[-0.0072,2.0],[-0.0067,3.4],[-0.0063,2.7],[-0.0059,4.4],[-0.0055,3.8],[-0.0051,5.8],[-0.0047,6.2],[-0.0044,8],[-0.0041,11],[-0.0036,13.5],[-0.0031,17],[-0.0026,24],[-0.0021,33],[-0.0017,48],[-0.0012,75],[-0.0008,150],[-0.0004,400],[-0.0002,900],[-0.0001,1600],[0,3000],[0.0001,1600],[0.0002,900],[0.0004,380],[0.0008,150],[0.0012,80],[0.0017,48],[0.0021,34],[0.0026,25],[0.0031,18],[0.0036,14],[0.0041,11],[0.0044,8.5],[0.0047,7.5],[0.0051,7.8],[0.0055,5.5],[0.0059,6.2],[0.0063,4.2],[0.0067,4.8],[0.0072,3.0],[0.0077,3.6],[0.0082,2.1],[0.0088,2.6],[0.0094,1.5],[0.0101,1.9],[0.0108,1.05],[0.0116,1.35],[0.0125,0.75],[0.0135,0.95],[0.0146,0.52],[0.0158,0.68],[0.017,0.36],[0.0185,0.5],[0.02,0.28],[0.022,0.38],[0.024,0.2],[0.026,0.3],[0.028,0.15],[0.031,0.22],[0.034,0.12],[0.037,0.17],[0.041,0.09],[0.045,0.13],[0.05,0.065],[0.055,0.085],[0.06,0.045],[0.066,0.055],[0.072,0.028],[0.078,0.035],[0.085,0.018],[0.092,0.022],[0.1,0.013],[0.11,0.014],[0.118,0.009],[0.125,0]];

const blackTHL: Pts = [[-0.8,0],[-0.53,0.02],[-0.4,0.12],[-0.32,0.35],[-0.267,0.65],[-0.2,1.0],[-0.16,1.3],[-0.133,1.55],[-0.0997,1.9],[-0.0795,2.2],[-0.0637,2.45],[-0.049,2.75],[-0.03878,3.0],[-0.03415,3.5],[-0.03042,3.1],[-0.02733,3.6],[-0.02473,3.1],[-0.0225,3.7],[-0.02056,3.1],[-0.01886,3.8],[-0.01734,3.0],[-0.01598,4.0],[-0.01475,3.0],[-0.01363,4.2],[-0.0126,3.0],[-0.01165,4.4],[-0.01076,3.0],[-0.00993,4.5],[-0.00915,3.0],[-0.00842,4.6],[-0.00772,3.1],[-0.00706,4.7],[-0.00642,3.0],[-0.00581,4.8],[-0.00522,3.1],[-0.00465,4.6],[-0.0041,3.0],[-0.00355,4.9],[-0.00303,3.1],[-0.0025,4.7],[-0.002,3.2],[-0.00149,4.8],[-0.00099,3.0],[-0.000495,4.6],[0,3.1],[0.000495,4.8],[0.00099,3.0],[0.00149,4.7],[0.002,3.2],[0.0025,4.8],[0.00303,3.0],[0.00355,4.7],[0.0041,3.1],[0.00465,4.6],[0.00522,3.0],[0.00581,4.8],[0.00642,3.1],[0.00706,4.5],[0.00772,3.0],[0.00842,4.6],[0.00915,3.1],[0.00993,4.4],[0.01076,3.0],[0.01165,4.3],[0.0126,3.1],[0.01363,4.1],[0.01475,3.0],[0.01598,4.0],[0.01734,3.1],[0.01886,3.8],[0.02056,3.1],[0.0225,3.7],[0.02473,3.2],[0.02733,3.6],[0.03042,3.1],[0.03415,3.4],[0.03878,3.0],[0.049,2.75],[0.0637,2.45],[0.0795,2.2],[0.0997,1.9],[0.133,1.55],[0.16,1.3],[0.2,1.0],[0.267,0.65],[0.32,0.35],[0.4,0.12],[0.53,0.02],[0.8,0]];

const redTHL: Pts = [[-0.8,0],[-0.53,2e-4],[-0.45,4e-4],[-0.4,9e-4],[-0.36,1.4e-3],[-0.32,2e-3],[-0.29,1.6e-3],[-0.267,3.5e-3],[-0.24,3e-3],[-0.2,6e-3],[-0.18,4.5e-3],[-0.16,0.012],[-0.15,0.007],[-0.14,0.014],[-0.133,0.009],[-0.126,0.02],[-0.12,0.012],[-0.114,0.028],[-0.108,0.017],[-0.102,0.036],[-0.097,0.022],[-0.092,0.042],[-0.087,0.027],[-0.082,0.055],[-0.077,0.034],[-0.072,0.065],[-0.068,0.04],[-0.064,0.085],[-0.06,0.05],[-0.056,0.1],[-0.052,0.065],[-0.049,0.13],[-0.046,0.08],[-0.043,0.17],[-0.04,0.11],[-0.037,0.25],[-0.035,0.15],[-0.033,0.3],[-0.031,0.2],[-0.029,0.34],[-0.027,0.26],[-0.0255,0.45],[-0.024,0.33],[-0.0225,0.55],[-0.021,0.42],[-0.0198,0.72],[-0.0187,0.55],[-0.0177,0.95],[-0.0168,0.8],[-0.016,1.4],[-0.0152,1.15],[-0.0145,2.0],[-0.0138,2.2],[-0.0132,3.0],[-0.0126,3.8],[-0.012,5.5],[-0.0115,7],[-0.011,10],[-0.0105,23],[-0.0099,40],[-0.0093,47],[-0.008,45],[-0.007,50],[-0.006,46],[-0.005,49],[-0.004,47],[-0.003,51],[-0.002,48],[-0.001,52],[-0.0004,55],[0,62],[0.0004,55],[0.001,50],[0.002,47],[0.003,49],[0.004,46],[0.005,48],[0.006,45],[0.007,47],[0.0083,44],[0.0089,46],[0.0095,40],[0.0101,30],[0.0106,15],[0.011,9],[0.0115,6],[0.012,4.3],[0.0128,3.5],[0.0138,3],[0.0148,2.2],[0.0157,1.7],[0.0167,1.8],[0.0178,1.1],[0.019,1.1],[0.0201,0.65],[0.0212,0.7],[0.0225,0.42],[0.024,0.5],[0.0255,0.32],[0.0272,0.38],[0.029,0.22],[0.031,0.3],[0.033,0.17],[0.036,0.22],[0.039,0.12],[0.042,0.16],[0.045,0.09],[0.048,0.13],[0.052,0.065],[0.056,0.09],[0.06,0.045],[0.065,0.06],[0.07,0.03],[0.075,0.04],[0.08,0.02],[0.085,0.028],[0.09,0.015],[0.095,0.02],[0.1,0.011],[0.107,0.016],[0.115,0.008],[0.125,0.01],[0.135,0.006],[0.15,0.005],[0.165,0.004],[0.2,0.003],[0.26,0.0018],[0.36,0.001],[0.45,0.0004],[0.55,0.0001],[0.8,0]];

// ---------------- layout ----------------
const COL_LEFT = [40, 492, 944];
const ROW_TOP = [10, 290, 568, 847, 1126];
const PLOT_W = 391;
const PLOT_H = 189;
const Y_AXIS_W = 40;
const PAD_TOP = 10;
const PAD_RIGHT = 14;
const X_AXIS_H = 22;
const CANVAS_W = Y_AXIS_W + PLOT_W + PAD_RIGHT;
const CANVAS_H = PAD_TOP + PLOT_H + X_AXIS_H;

const Sub = ({ children }: { children: React.ReactNode }) => (
  <span style={{ fontSize: "0.72em", position: "relative", top: "0.3em" }}>{children}</span>
);

const pairTitle = (q: React.ReactNode, a: string, b: string, mean: React.ReactNode) => (
  <>
    ({q}<Sub>{a}</Sub> − {q}<Sub>{b}</Sub>)/ ⟨{mean}⟩
  </>
);
const dT = <>Δ<i>t</i></>;
const dF = <>Δ<i>f</i></>;
const hH = <i>h</i>;
const fF = <i>f</i>;
const tT = <i>t</i>;

type Spec = {
  row: number;
  col: number;
  red: Pts;
  black: Pts;
  yExp: [number, number];
  xTicks: number[];
  xLabels?: string[];
  warp?: number;
  title: React.ReactNode;
};

const PANELS: Spec[] = [
  { row: 0, col: 0, red: redDtH1H2, black: blackDt, yExp: [-4, 2], xTicks: xTicksWide, title: pairTitle(dT, "H1", "H2", dT) },
  { row: 0, col: 1, red: redDtH1L1, black: blackDt, yExp: [-4, 2], xTicks: xTicksWide, title: pairTitle(dT, "H1", "L1", dT) },
  { row: 0, col: 2, red: redDtH2L1, black: blackDt, yExp: [-4, 2], xTicks: xTicksWide, title: pairTitle(dT, "H2", "L1", dT) },
  { row: 1, col: 0, red: redDfH1H2, black: blackDf, yExp: [-4, 2], xTicks: xTicksWide, title: pairTitle(dF, "H1", "H2", dF) },
  { row: 1, col: 1, red: redDfHL, black: blackDf, yExp: [-4, 2], xTicks: xTicksWide, title: pairTitle(dF, "H1", "L1", dF) },
  { row: 1, col: 2, red: redDfHL, black: blackDf, yExp: [-4, 2], xTicks: xTicksWide, title: pairTitle(dF, "H2", "L1", dF) },
  { row: 2, col: 0, red: redHrssH1H2, black: blackHrssH1H2, yExp: [-4, 2], xTicks: xTicksNarrow, title: pairTitle(hH, "rss H1", "rss H2", <>{hH}<Sub>rss</Sub></>) },
  { row: 2, col: 1, red: redHrssHL, black: blackHrssHL, yExp: [-5, 1], xTicks: xTicksWide, title: pairTitle(hH, "rss H1", "rss L1", <>{hH}<Sub>rss</Sub></>) },
  { row: 2, col: 2, red: redHrssHL, black: blackHrssHL, yExp: [-5, 1], xTicks: xTicksWide, title: pairTitle(hH, "rss H2", "rss L1", <>{hH}<Sub>rss</Sub></>) },
  { row: 3, col: 0, red: redFH1H2, black: blackFH1H2, yExp: [-4, 2], xTicks: xTicksWide, title: pairTitle(fF, "H1", "H2", fF) },
  { row: 3, col: 1, red: redFH1L1, black: blackFH1L1, yExp: [-4, 2], xTicks: xTicksWide, title: pairTitle(fF, "H1", "L1", fF) },
  { row: 3, col: 2, red: redFH2L1, black: blackFH2L1, yExp: [-4, 2], xTicks: xTicksWide, title: pairTitle(fF, "H2", "L1", fF) },
  { row: 4, col: 0, red: redTH1H2, black: blackTH1H2, yExp: [-2, 4], xTicks: xTicksTime, xLabels: xTicksTimeLabels, warp: TIME_WARP_H1H2, title: <>{tT}<Sub>H1</Sub> − {tT}<Sub>H2</Sub> (s)</> },
  { row: 4, col: 1, red: redTHL, black: blackTHL, yExp: [-4, 2], xTicks: xTicksTime, xLabels: xTicksTimeLabels, warp: TIME_WARP_HL, title: <>{tT}<Sub>H1</Sub> − {tT}<Sub>L1</Sub> (s)</> },
  { row: 4, col: 2, red: redTHL, black: blackTHL, yExp: [-4, 2], xTicks: xTicksTime, xLabels: xTicksTimeLabels, warp: TIME_WARP_HL, title: <>{tT}<Sub>H2</Sub> − {tT}<Sub>L1</Sub> (s)</> },
];

// ---------------- helpers ----------------
const warpX = (x: number, a: number) => (2 / Math.PI) * Math.atan(x / a);
const SUP: Record<string, string> = { "-": "⁻", "0": "⁰", "1": "¹", "2": "²", "3": "³", "4": "⁴", "5": "⁵", "6": "⁶" };
const decadeLabel = (v: number) => "10" + String(Math.round(Math.log10(v))).split("").map((c) => SUP[c] ?? c).join("");
const linLabel = (v: number) => (v < 0 ? "−" : "") + Math.abs(v).toFixed(1);

const framePlugin = {
  id: "mplFrame",
  afterDraw(chart: any) {
    const { ctx, chartArea: a } = chart;
    const xs = chart.scales.x;
    const ys = chart.scales.y;
    ctx.save();
    ctx.strokeStyle = "#000";
    ctx.lineWidth = 1;
    ctx.beginPath();
    for (const t of xs.ticks) {
      const px = Math.round(xs.getPixelForValue(t.value)) + 0.5;
      ctx.moveTo(px, a.bottom);
      ctx.lineTo(px, a.bottom - 5);
      ctx.moveTo(px, a.top);
      ctx.lineTo(px, a.top + 5);
    }
    const lo = Math.round(Math.log10(ys.min));
    const hi = Math.round(Math.log10(ys.max));
    for (let e = lo; e <= hi; e++) {
      for (let m = 1; m <= 9; m++) {
        if (e === hi && m > 1) break;
        const py = Math.round(ys.getPixelForValue(m * Math.pow(10, e))) + 0.5;
        const len = m === 1 ? 5 : 2.5;
        ctx.moveTo(a.left, py);
        ctx.lineTo(a.left + len, py);
        ctx.moveTo(a.right, py);
        ctx.lineTo(a.right - len, py);
      }
    }
    ctx.stroke();
    ctx.lineWidth = 1.5;
    ctx.strokeRect(a.left, a.top, a.right - a.left, a.bottom - a.top);
    ctx.restore();
  },
};

function makeConfig(s: Spec): any {
  const w = s.warp;
  const mapX = (x: number) => (w ? warpX(x, w) : x);
  const toXY = (p: Pts) => p.map(([x, y]) => ({ x: mapX(x), y: y > 0 ? y : EMPTY_BIN }));
  const xVals = s.xTicks.map(mapX);
  const labels = s.xLabels ?? s.xTicks.map(linLabel);
  const [lo, hi] = s.yExp;
  const decades: number[] = [];
  for (let e = lo; e <= hi; e++) decades.push(Number(`1e${e}`));
  const tickFont = { size: 13.5, family: '"Liberation Serif", "DejaVu Serif", serif' };
  return {
    type: "line",
    data: {
      datasets: [
        { data: toXY(s.red), borderColor: "#ff0000", borderWidth: 1, pointRadius: 0, tension: 0, fill: false },
        { data: toXY(s.black), borderColor: "#000000", borderWidth: 1, pointRadius: 0, tension: 0, fill: false },
      ],
    },
    options: {
      animation: false,
      responsive: false,
      events: [],
      layout: { padding: { top: PAD_TOP, right: PAD_RIGHT, left: 0, bottom: 0 } },
      plugins: { legend: { display: false }, tooltip: { enabled: false } },
      scales: {
        x: {
          type: "linear",
          min: xVals[0],
          max: xVals[xVals.length - 1],
          afterBuildTicks: (sc: any) => {
            sc.ticks = xVals.map((v) => ({ value: v }));
          },
          afterFit: (sc: any) => {
            sc.height = X_AXIS_H;
          },
          grid: { display: false, drawTicks: false },
          border: { display: false },
          ticks: {
            autoSkip: false,
            maxRotation: 0,
            minRotation: 0,
            padding: 4,
            color: "#000",
            font: tickFont,
            callback: (_v: any, i: number) => labels[i],
          },
        },
        y: {
          type: "logarithmic",
          min: decades[0],
          max: decades[decades.length - 1],
          afterBuildTicks: (sc: any) => {
            sc.ticks = decades.map((v) => ({ value: v, major: true }));
          },
          afterFit: (sc: any) => {
            sc.width = Y_AXIS_W;
          },
          grid: { display: false, drawTicks: false },
          border: { display: false },
          ticks: {
            autoSkip: false,
            padding: 4,
            color: "#000",
            font: { size: 14.5, family: '"Liberation Serif", "DejaVu Serif", serif' },
            callback: (v: any) => decadeLabel(Number(v)),
          },
        },
      },
    },
    plugins: [framePlugin],
  };
}

function Panel({ spec }: { spec: Spec }) {
  const ref = useRef<HTMLCanvasElement>(null);
  useEffect(() => {
    const chart = new Chart(ref.current as HTMLCanvasElement, makeConfig(spec));
    return () => chart.destroy();
  }, [spec]);
  const left = COL_LEFT[spec.col];
  const top = ROW_TOP[spec.row];
  return (
    <>
      <canvas
        ref={ref}
        width={CANVAS_W}
        height={CANVAS_H}
        style={{ position: "absolute", left: left - Y_AXIS_W, top: top - PAD_TOP, width: CANVAS_W, height: CANVAS_H }}
      />
      <div
        style={{
          position: "absolute",
          left,
          top: top + PLOT_H + 18,
          width: PLOT_W,
          textAlign: "center",
          fontFamily: '"Liberation Serif", "DejaVu Serif", serif',
          fontSize: 17,
          lineHeight: "20px",
          whiteSpace: "nowrap",
          color: "#000",
        }}
      >
        {spec.title}
      </div>
    </>
  );
}

export default function App() {
  return (
    <div style={{ position: "absolute", left: 0, top: 0, width: 1367, height: 1357, background: "#fff", overflow: "hidden" }}>
      {PANELS.map((p, i) => (
        <Panel key={i} spec={p} />
      ))}
    </div>
  );
}
